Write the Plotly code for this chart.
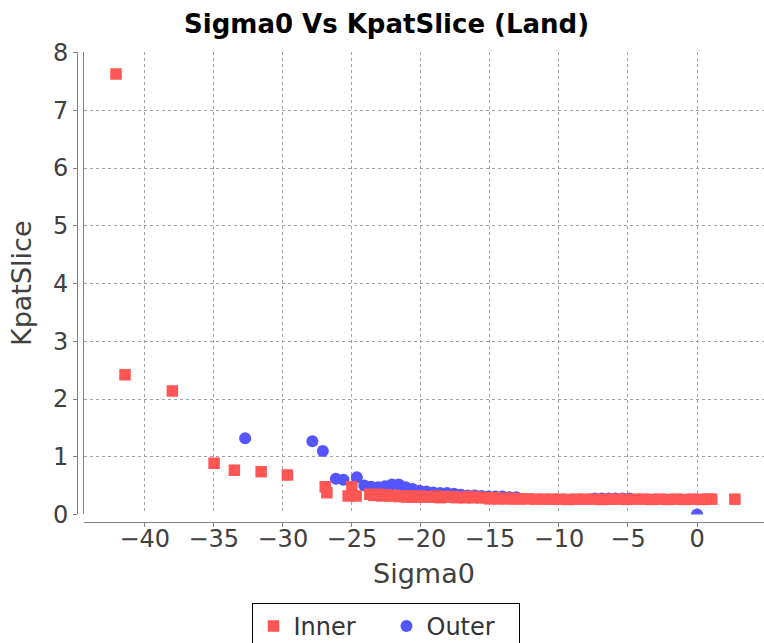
import plotly.graph_objects as go

# Inner beam samples: Sigma0 (dB) and KpatSlice
inner_sigma0 = [
    -42.08, -41.43, -38.0, -34.98, -33.51, -31.57, -29.67, -26.93, -26.81,
    -25.0, -25.27, -24.69,
    -23.7, -23.1, -22.5, -21.9, -21.3, -20.7, -20.1, -19.5, -18.9, -18.3,
    -17.7, -17.1, -16.5, -15.9,
    -23.4, -22.8, -22.2, -21.6, -21.0, -20.4, -19.8, -19.2, -18.6, -18.0,
    -17.4, -16.8, -16.2, -15.6,
    -15.3, -14.7, -14.1, -13.5, -15.0, -14.4, -13.8, -13.2,
    -12.9, -12.3, -11.7, -11.1, -10.5, -9.9, -9.3, -8.7, -8.1, -7.5,
    -6.9, -6.3, -5.7, -5.1, -4.5, -3.9, -3.3, -2.7, -2.1, -1.5,
    -0.9, -0.3, 0.3, 0.75, 1.06,
    2.74,
]
inner_kpat = [
    7.63, 2.42, 2.14, 0.887, 0.765, 0.741, 0.684, 0.48, 0.377,
    0.48, 0.32, 0.32,
    0.35, 0.35, 0.34, 0.33, 0.32, 0.32, 0.32, 0.31, 0.32, 0.31,
    0.31, 0.30, 0.31, 0.30,
    0.33, 0.32, 0.32, 0.31, 0.30, 0.30, 0.30, 0.30, 0.29, 0.30,
    0.29, 0.29, 0.29, 0.29,
    0.29, 0.29, 0.28, 0.28, 0.27, 0.27, 0.27, 0.27,
    0.27, 0.27, 0.265, 0.265, 0.265, 0.265, 0.26, 0.265, 0.265, 0.265,
    0.26, 0.265, 0.265, 0.26, 0.265, 0.265, 0.26, 0.265, 0.26, 0.265,
    0.26, 0.265, 0.26, 0.265, 0.265,
    0.265,
]

# Outer beam samples
outer_sigma0 = [
    -32.73, -27.86, -27.10, -26.16, -25.61, -24.64,
    -24.1, -23.6, -23.1, -22.6, -22.1, -21.6, -21.1, -20.6, -20.1, -19.6,
    -19.1, -18.6, -18.1, -17.6, -17.1, -16.6, -16.1, -15.6, -15.1, -14.6,
    -14.1, -13.6, -13.1,
    -7.4, -6.9, -6.4, -5.9, -5.4, -4.9,
    0.0,
]
outer_kpat = [
    1.32, 1.27, 1.10, 0.62, 0.60, 0.644,
    0.50, 0.48, 0.47, 0.49, 0.52, 0.52, 0.47, 0.44, 0.41, 0.40,
    0.38, 0.37, 0.37, 0.36, 0.34, 0.33, 0.33, 0.32, 0.31, 0.31,
    0.31, 0.30, 0.30,
    0.275, 0.275, 0.275, 0.275, 0.275, 0.275,
    0.0,
]

x_ticks = [-40, -35, -30, -25, -20, -15, -10, -5, 0]
y_ticks = [0, 1, 2, 3, 4, 5, 6, 7, 8]
x_range = [-44.4, 4.85]
y_range = [0, 8.01]

RED = "#FF5555"
BLUE = "#5555FF"
AXIS_GREY = "#808080"
GRID_GREY = "#a0a0a0"
TEXT_GREY = "#404040"
FONT = "DejaVu Sans"

fig = go.Figure()

# Outer first so the Inner squares sit on top of it
fig.add_trace(go.Scatter(
    x=outer_sigma0, y=outer_kpat, mode="markers", name="Outer",
    marker=dict(symbol="circle", size=12, color=BLUE, line=dict(width=0)),
    legendrank=2,
))
fig.add_trace(go.Scatter(
    x=inner_sigma0, y=inner_kpat, mode="markers", name="Inner",
    marker=dict(symbol="square", size=11.5, color=RED, line=dict(width=0)),
    legendrank=1,
))
# carrier for the offset axes (no data)
fig.add_trace(go.Scatter(x=[], y=[], xaxis="x2", yaxis="y2",
                         showlegend=False, hoverinfo="skip"))

x_dom = [0.0102, 1]
y_dom = [0.016, 1]

fig.update_layout(
    width=764, height=643,
    margin=dict(l=77, r=0, t=52, b=121, autoexpand=False),
    paper_bgcolor="white", plot_bgcolor="white",
    font=dict(family=FONT, color=TEXT_GREY),
    title=dict(
        text="Sigma0 Vs KpatSlice (Land)",
        xref="container", yref="container",
        x=0.506, y=0.9627, xanchor="center", yanchor="middle",
        font=dict(family=FONT, size=26, color="black", weight="bold"),
    ),
    xaxis=dict(
        domain=x_dom, range=x_range, tickvals=x_ticks,
        showgrid=True, gridcolor=GRID_GREY, griddash="3px,3px", gridwidth=1,
        zeroline=False, showline=False, showticklabels=False, ticks="",
    ),
    yaxis=dict(
        domain=y_dom, range=y_range, tickvals=y_ticks,
        showgrid=True, gridcolor=GRID_GREY, griddash="3px,3px", gridwidth=1,
        zeroline=False, showline=True, linecolor=AXIS_GREY, linewidth=1,
        showticklabels=False, ticks="",
    ),
    xaxis2=dict(
        overlaying="x", anchor="free", position=0, domain=x_dom,
        range=x_range, tickvals=x_ticks,
        showgrid=False, zeroline=False,
        showline=True, linecolor=AXIS_GREY, linewidth=1,
        ticks="outside", ticklen=4, tickcolor=AXIS_GREY,
        ticklabelstandoff=-9,
        tickfont=dict(family=FONT, size=24, color=TEXT_GREY),
        title=dict(text="Sigma0", standoff=12,
                   font=dict(family=FONT, size=27, color=TEXT_GREY)),
    ),
    yaxis2=dict(
        overlaying="y", anchor="free", position=0, domain=y_dom, side="left",
        range=y_range, tickvals=y_ticks,
        showgrid=False, zeroline=False,
        showline=True, linecolor=AXIS_GREY, linewidth=1,
        ticks="outside", ticklen=4, tickcolor=AXIS_GREY,
        tickfont=dict(family=FONT, size=24, color=TEXT_GREY),
        title=dict(text="KpatSlice", standoff=12,
                   font=dict(family=FONT, size=27, color=TEXT_GREY)),
    ),
    legend=dict(
        orientation="h", x=0.4505, xanchor="center", y=-0.1723, yanchor="top",
        bordercolor="black", borderwidth=1, bgcolor="white",
        entrywidth=88,
        font=dict(family=FONT, size=24, color="#333333"),
    ),
    showlegend=True,
)

fig.write_html("out.html")
